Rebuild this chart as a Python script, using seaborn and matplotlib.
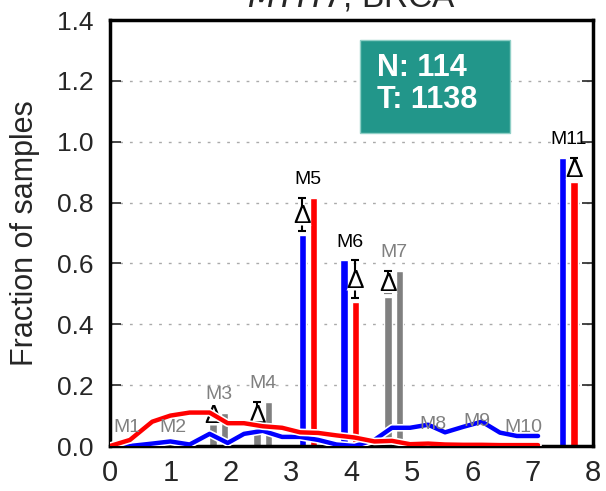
import numpy as np
import matplotlib
matplotlib.use('Agg')
import matplotlib.pyplot as plt
import matplotlib.patheffects as pe
from matplotlib.patches import Rectangle
import seaborn as sns

# motif groups
motifs = ['M1', 'M2', 'M3', 'M4', 'M5', 'M6', 'M7', 'M8', 'M9', 'M10', 'M11']
motif_pos = [0.28, 1.04, 1.80, 2.53, 3.28, 3.97, 4.70, 5.35, 6.08, 6.84, 7.59]
normal_frac = [0.0, 0.0, 0.085, 0.05, 0.695, 0.61, 0.49, 0.01, 0.02, 0.0, 0.947]
tumor_frac = [0.0, 0.0, 0.11, 0.145, 0.815, 0.475, 0.575, 0.005, 0.01, 0.0, 0.868]
significant = [False, False, False, False, True, True, False, False, False, False, True]
show_delta = [False, False, True, True, True, True, True, False, False, False, True]

# distribution lines
blue_x = [0, 0.33, 0.7, 1.0, 1.32, 1.65, 1.95, 2.22, 2.53, 2.85, 3.15, 3.45,
          3.75, 4.05, 4.38, 4.67, 4.97, 5.27, 5.55, 5.85, 6.16, 6.46, 6.74, 7.09]
blue_y = [0, 0.0, 0.008, 0.015, 0.005, 0.04, 0.01, 0.04, 0.05, 0.03, 0.03, 0.02,
          0.005, 0.0, 0.02, 0.06, 0.06, 0.07, 0.045, 0.063, 0.08, 0.044, 0.033, 0.033]
red_x = blue_x
red_y = [0, 0.02, 0.08, 0.10, 0.11, 0.11, 0.075, 0.075, 0.065, 0.06, 0.045, 0.043,
         0.035, 0.028, 0.015, 0.017, 0.006, 0.008, 0.005, 0.004, 0.004, 0.003, 0.003, 0.003]

n_normal = 114
n_tumor = 1138

sns.set_style('white')
plt.rcParams['font.family'] = ['Liberation Sans', 'DejaVu Sans']

fig = plt.figure(figsize=(6.06, 4.91), dpi=100)
ax = fig.add_axes([0.1815, 0.0916, 0.797, 0.8674])

# grid
for g in [0.2, 0.4, 0.6, 0.8, 1.0, 1.2]:
    ax.axhline(g, color='#aaaaaa', lw=1, ls=(0, (2, 5)), zorder=0)

# bars
bw = 0.12
for i, m in enumerate(motifs):
    c_l, c_r = ('blue', 'red') if significant[i] else ('#808080', '#808080')
    xl, xr = motif_pos[i] - 0.095, motif_pos[i] + 0.095
    ax.bar(xl, normal_frac[i], width=bw, color=c_l, zorder=2)
    ax.bar(xr, tumor_frac[i], width=bw, color=c_r, zorder=2)
    if show_delta[i]:
        lo, hi = sorted([normal_frac[i], tumor_frac[i]])
        xd = xl if normal_frac[i] <= tumor_frac[i] else xr
        mid = (lo + hi) / 2
        ax.errorbar(xd, mid, yerr=[[mid - lo - 0.012], [hi - mid]], color='black',
                    lw=1.5, capsize=3, capthick=1.5, zorder=3)
        ax.plot(xd, mid, marker='^', ms=13, mfc='white', mec='none', zorder=3.5)
        ax.text(xd, mid, '\u0394', ha='center', va='center', fontsize=19,
                color='black', zorder=3.6)
    top = max(normal_frac[i], tumor_frac[i])
    ax.text(motif_pos[i], top + 0.06, m, ha='center', va='center',
            fontsize=14, color='black' if significant[i] else '#808080', zorder=6)

# lines
stroke = [pe.Stroke(linewidth=5.5, foreground='white'), pe.Normal()]
sns.lineplot(x=blue_x, y=blue_y, color='blue', lw=3.2, ax=ax, zorder=4,
             path_effects=stroke)
sns.lineplot(x=red_x, y=red_y, color='red', lw=3.2, ax=ax, zorder=5,
             path_effects=stroke)

# N/T box
ax.add_patch(Rectangle((4.14, 1.03), 2.48, 0.305, fc='#22968A', ec='#8fcfc6',
                       lw=1, zorder=7))
ax.text(4.42, 1.19, f'N: {n_normal}\nT: {n_tumor}', ha='left', va='center',
        fontsize=22, fontweight='bold', color='white', linespacing=1.1, zorder=8)

ax.set_xlim(0, 8)
ax.set_ylim(0, 1.4)
ax.set_xticks(range(9))
ax.set_yticks([0, 0.2, 0.4, 0.6, 0.8, 1.0, 1.2, 1.4])
ax.set_yticklabels(['0.0', '0.2', '0.4', '0.6', '0.8', '1.0', '1.2', '1.4'])
ax.tick_params(axis='x', direction='in', length=8, width=1.2, labelsize=21, pad=9)
ax.tick_params(axis='y', direction='in', length=8, width=1.2, labelsize=19, pad=12,
               right=True, left=True)
for s in ax.spines.values():
    s.set_linewidth(2.5)
    s.set_color('black')
ax.set_ylabel('Fraction of samples', fontsize=22, labelpad=12)
ax.set_title(r'$\mathit{MYH7}$, BRCA', fontsize=24, pad=10)

fig.savefig('out.png', dpi=100)
plt.close(fig)
